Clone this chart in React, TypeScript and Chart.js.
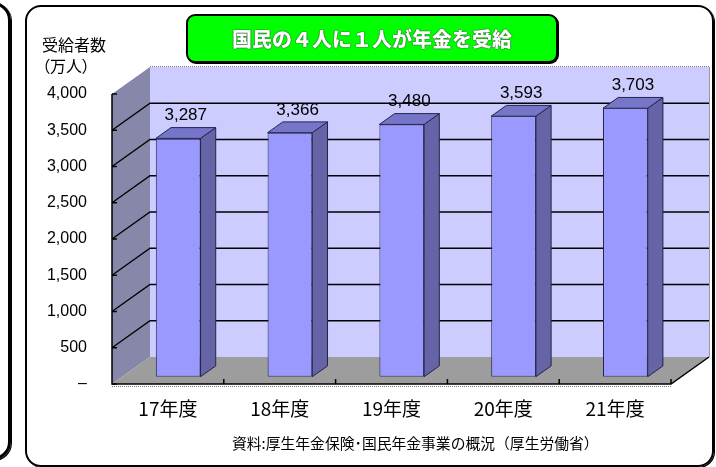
import React, { useEffect, useRef } from 'react';
import { Chart, registerables } from 'chart.js';

Chart.register(...registerables);

// ---- data ----
const categories = ['17年度', '18年度', '19年度', '20年度', '21年度'];
const recipients = [3287, 3366, 3480, 3593, 3703];
const yMin = 0;
const yMax = 4000;
const yStep = 500;
const chartTitle = '国民の４人に１人が年金を受給';
const yTitleLines = ['受給者数', '（万人）'];
const sourceNote = '資料:厚生年金保険･国民年金事業の概況（厚生労働省）';

// ---- 3D styling ----
const DEPTH = { x: 38, y: -27 };
const BAR_FRONT = 0.27;
const BAR_DEPTH = 0.4;
const LABEL_GAP = 12;
const NUM_FONT = "'Liberation Sans', Arial, sans-serif";
const JP_FONT = "'Noto Sans CJK JP', sans-serif";

function poly(ctx: CanvasRenderingContext2D, pts: number[][]) {
  ctx.beginPath();
  ctx.moveTo(pts[0][0], pts[0][1]);
  for (let i = 1; i < pts.length; i++) ctx.lineTo(pts[i][0], pts[i][1]);
  ctx.closePath();
}

function line(ctx: CanvasRenderingContext2D, pts: number[][]) {
  ctx.beginPath();
  ctx.moveTo(pts[0][0], pts[0][1]);
  for (let i = 1; i < pts.length; i++) ctx.lineTo(pts[i][0], pts[i][1]);
  ctx.stroke();
}

const threeD = {
  id: 'threeD',
  beforeDatasetsDraw(chart: any) {
    const { ctx, chartArea: a, scales } = chart;
    const ys = scales.y;
    const xs = scales.x;
    const dx = DEPTH.x;
    const dy = DEPTH.y;
    ctx.save();
    // back wall
    ctx.fillStyle = '#CCCCFF';
    ctx.fillRect(a.left + dx, a.top + dy, a.right - a.left, a.bottom - a.top);
    // left wall
    ctx.fillStyle = '#8787AA';
    poly(ctx, [[a.left, a.top], [a.left + dx, a.top + dy], [a.left + dx, a.bottom + dy], [a.left, a.bottom]]);
    ctx.fill();
    // floor
    ctx.fillStyle = '#9D9D9D';
    poly(ctx, [[a.left, a.bottom], [a.right, a.bottom], [a.right + dx, a.bottom + dy], [a.left + dx, a.bottom + dy]]);
    ctx.fill();
    // gridlines
    ctx.strokeStyle = '#000';
    ctx.lineWidth = 1.3;
    ys.ticks.forEach((t: any) => {
      if (t.value <= yMin || t.value >= yMax) return;
      const py = ys.getPixelForValue(t.value);
      line(ctx, [[a.left, py], [a.left + dx, py + dy], [a.right + dx, py + dy]]);
    });
    // dotted edges
    ctx.strokeStyle = '#777';
    ctx.lineWidth = 1;
    ctx.setLineDash([1, 1]);
    line(ctx, [[a.left + dx, a.top + dy - 0.5], [a.right + dx, a.top + dy - 0.5]]);
    line(ctx, [[a.left, a.bottom + 2.5], [a.right, a.bottom + 2.5]]);
    ctx.setLineDash([]);
    // back wall right edge
    ctx.strokeStyle = '#999';
    line(ctx, [[a.right + dx + 0.5, a.top + dy], [a.right + dx + 0.5, a.bottom + dy]]);
    // axes
    ctx.strokeStyle = '#000';
    ctx.lineWidth = 1.5;
    line(ctx, [[a.left, a.top], [a.left, a.bottom], [a.right, a.bottom], [a.right + dx, a.bottom + dy]]);
    // y tick marks
    ys.ticks.forEach((t: any) => {
      const py = ys.getPixelForValue(t.value);
      line(ctx, [[a.left, py], [a.left + 5, py]]);
    });
    // x tick marks (category boundaries)
    const n = categories.length;
    const step = n > 1 ? xs.getPixelForTick(1) - xs.getPixelForTick(0) : a.right - a.left;
    for (let i = 0; i < n; i++) {
      const px = xs.getPixelForTick(i) + step / 2;
      line(ctx, [[px, a.bottom], [px, a.bottom - 5]]);
    }
    ctx.restore();
    ctx.save();
    ctx.translate(BAR_FRONT * dx, BAR_FRONT * dy);
  },
  afterDatasetsDraw(chart: any) {
    const { ctx } = chart;
    ctx.restore();
    const fx = BAR_FRONT * DEPTH.x;
    const fy = BAR_FRONT * DEPTH.y;
    const bx = BAR_DEPTH * DEPTH.x;
    const by = BAR_DEPTH * DEPTH.y;
    const meta = chart.getDatasetMeta(0);
    ctx.save();
    ctx.lineWidth = 1;
    ctx.strokeStyle = '#24244A';
    meta.data.forEach((bar: any, i: number) => {
      const { x, y, base, width } = bar.getProps(['x', 'y', 'base', 'width'], true);
      const l = x - width / 2 + fx;
      const r = x + width / 2 + fx;
      const t = y + fy;
      const b = base + fy;
      // side
      ctx.fillStyle = '#6464A6';
      poly(ctx, [[r, t], [r + bx, t + by], [r + bx, b + by], [r, b]]);
      ctx.fill();
      ctx.stroke();
      // top
      ctx.fillStyle = '#7676C8';
      poly(ctx, [[l, t], [r, t], [r + bx, t + by], [l + bx, t + by]]);
      ctx.fill();
      ctx.stroke();
      // value label
      ctx.fillStyle = '#000';
      ctx.font = `17px ${NUM_FONT}`;
      ctx.textAlign = 'center';
      ctx.textBaseline = 'middle';
      ctx.fillText(recipients[i].toLocaleString('en-US'), x + 0.47 * DEPTH.x, t + by - LABEL_GAP);
    });
    ctx.restore();
  },
};

export default function App() {
  const ref = useRef<HTMLCanvasElement | null>(null);

  useEffect(() => {
    if (!ref.current) return;
    const chart = new Chart(ref.current, {
      type: 'bar',
      data: {
        labels: categories,
        datasets: [
          {
            data: recipients,
            backgroundColor: '#9999FF',
            borderColor: '#24244A',
            borderWidth: 1,
            borderSkipped: false,
            barPercentage: 0.4,
            categoryPercentage: 1,
          },
        ],
      },
      options: {
        responsive: false,
        animation: false,
        devicePixelRatio: 1,
        layout: { padding: { top: 94, right: 45, left: 0, bottom: 0 } },
        plugins: { legend: { display: false }, tooltip: { enabled: false }, title: { display: false } },
        scales: {
          x: {
            grid: { display: false, drawTicks: false },
            border: { display: false },
            ticks: { color: '#000', font: { family: JP_FONT, size: 19 }, padding: 13 },
            afterFit: (s: any) => {
              s.height = 83;
            },
          },
          y: {
            min: yMin,
            max: yMax,
            grid: { display: false, drawTicks: false },
            border: { display: false },
            ticks: {
              stepSize: yStep,
              color: '#000',
              font: { family: NUM_FONT, size: 16 },
              padding: 25,
              callback: (v: any) => (Number(v) === 0 ? '–' : Number(v).toLocaleString('en-US')),
            },
            afterFit: (s: any) => {
              s.width = 112;
            },
          },
        },
      },
      plugins: [threeD],
    });
    return () => chart.destroy();
  }, []);

  return (
    <div
      style={{
        position: 'fixed',
        left: 0,
        top: 0,
        width: 716,
        height: 467,
        background: '#fff',
        overflow: 'hidden',
        fontFamily: JP_FONT,
      }}
    >
      {/* partial neighbouring panel */}
      <div
        style={{
          position: 'absolute',
          left: -40,
          top: 2,
          width: 45,
          height: 452,
          border: '3px solid #000',
          borderRadius: 18,
          boxShadow: '1px 1px 0 #000',
        }}
      />
      {/* main panel */}
      <div
        style={{
          position: 'absolute',
          left: 25,
          top: 5,
          width: 685,
          height: 458,
          border: '2px solid #000',
          borderRadius: 16,
          boxShadow: '1px 1px 0 #000',
        }}
      />
      <canvas ref={ref} width={716} height={467} style={{ position: 'absolute', left: 0, top: 0 }} />
      {/* title */}
      <div
        style={{
          position: 'absolute',
          left: 186,
          top: 14,
          width: 368,
          height: 45,
          background: '#00FF00',
          border: '2px solid #000',
          borderRadius: 9,
          boxShadow: '1px 1px 0 #000',
          display: 'flex',
          alignItems: 'center',
          justifyContent: 'center',
          color: '#fff',
          fontWeight: 900,
          fontSize: 20,
          textShadow: '0 0 1px #222, 0 0 1px #222',
        }}
      >
        {chartTitle}
      </div>
      {/* y axis title */}
      <div
        style={{
          position: 'absolute',
          left: 42,
          top: 34,
          fontSize: 16,
          lineHeight: '21px',
          color: '#000',
          fontFeatureSettings: '"palt"',
        }}
      >
        {yTitleLines.map((t) => (
          <div key={t}>{t}</div>
        ))}
      </div>
      {/* source */}
      <div
        style={{
          position: 'absolute',
          left: 232,
          top: 433,
          fontSize: 14.8,
          lineHeight: '20px',
          color: '#000',
          whiteSpace: 'nowrap',
        }}
      >
        {sourceNote}
      </div>
    </div>
  );
}
